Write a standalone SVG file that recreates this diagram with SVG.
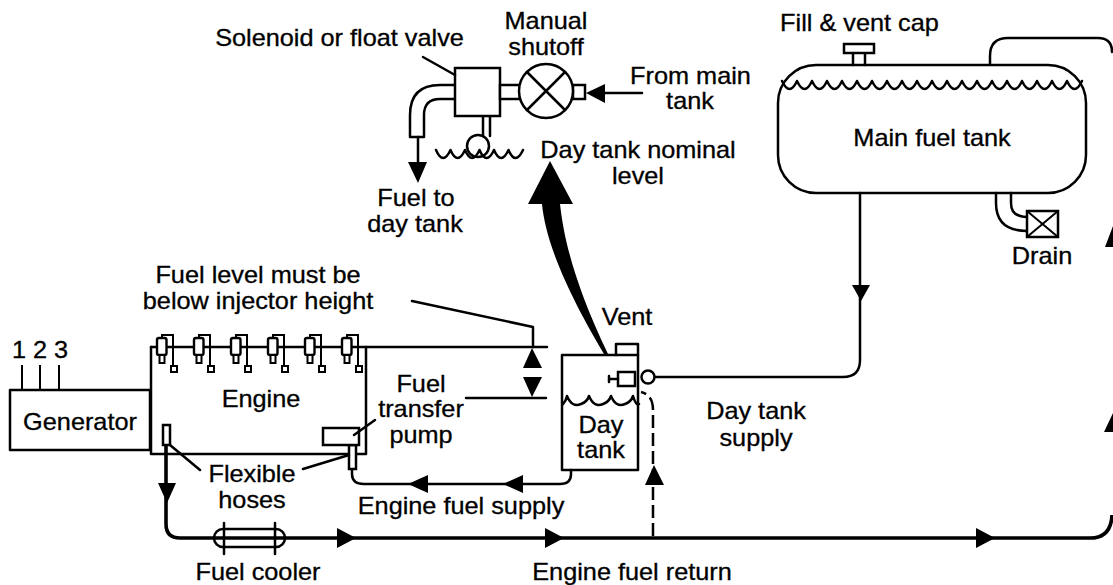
<svg xmlns="http://www.w3.org/2000/svg" xmlns:xlink="http://www.w3.org/1999/xlink" width="1113" height="585" viewBox="0 0 1113 585">
<style>
.s{fill:none;stroke:#000;stroke-width:2.5;stroke-linecap:round;stroke-linejoin:round}
.t{fill:none;stroke:#000;stroke-width:2}
.w{fill:#fff;stroke:#000;stroke-width:2.5}
.h{fill:none;stroke:#000;stroke-width:3.6}
.a{fill:#000;stroke:none}
text{font-family:"Liberation Sans",Arial,sans-serif;font-size:23px;fill:#000;stroke:#000;stroke-width:.3;text-anchor:middle}
</style>
<defs>
<g id="inj">
<path class="t" d="M162 338V335H173V366"/>
<rect x="157" y="338" width="9.500" height="17" rx="2" fill="#fff" stroke="#000" stroke-width="2.400"/>
<rect x="159.500" y="355" width="5" height="8" fill="#fff" stroke="#000" stroke-width="2"/>
<rect x="171" y="366" width="6" height="6" fill="#fff" stroke="#000" stroke-width="2"/>
</g>
</defs>
<rect width="1113" height="585" fill="#fff"/>
<g id="connectors">
<path class="h" d="M166 445V524Q166 538 180 538H1090Q1111 538 1112 515"/>
<path class="s" d="M352 469V474Q352 484 364 484H560Q571 484 571 474V470"/>
<path class="s" d="M655 377H843Q860 377 860 360V193"/>
<path class="s" stroke-dasharray="13 5" style="stroke-linecap:butt" d="M653 536V410Q653 395 641 392"/>
<path class="s" d="M990 64V56Q990 38 1008 38H1098Q1112 38 1112 52"/>
<path class="s" d="M412 301L533 327V347"/>
<path class="s" d="M151 347H547M466 398H546"/>
<path class="a" d="M550 161L573 204H560C564 240 575 285 608 354H604C560 280 545 235 542 204H528Z"/>
<path class="a" d="M532 348L542 368H523ZM532 397L542 377H523ZM158 483H176L167 503ZM337 528L356 538L337 548ZM545 528L564 538L545 548ZM976 528L995 538L976 548ZM523 475V493L503 484ZM428 475V493L408 484ZM852 285H870L861 301ZM654 465L664 485H645ZM1113 413V432H1104ZM1113 226V247H1105ZM586 93L605 84V103ZM408 162H427L418 183Z"/>
<path class="s" d="M605 93H642M418 137V165"/>
</g>
<g id="generator">
<rect class="s" x="10" y="390" width="140" height="60" fill="#fff"/>
<path class="t" d="M22 365V390M40 365V390M59 365V390"/>
<text transform="translate(40 358) scale(1.1 1)">1 2 3</text>
<text transform="translate(80 430) scale(1.1 1)">Generator</text>
</g>
<g id="engine">
<path class="s" d="M151 347V454H366V347"/>
<use xlink:href="#inj"/><use xlink:href="#inj" x="37"/><use xlink:href="#inj" x="74"/><use xlink:href="#inj" x="111"/><use xlink:href="#inj" x="148"/><use xlink:href="#inj" x="185"/>
<text transform="translate(261 407) scale(1.1 1)">Engine</text>
</g>
<g id="hoses">
<rect class="w" x="163" y="425" width="7" height="20"/>
<rect class="w" x="349" y="445" width="7" height="24"/>
<path class="s" d="M170 445L200 470M303 469L349 455"/>
<text transform="translate(252 482) scale(1.1 1)">Flexible</text>
<text transform="translate(252 508) scale(1.1 1)">hoses</text>
</g>
<g id="pump">
<rect class="w" x="323" y="428" width="36" height="17"/>
<path class="s" d="M375 420L354 435"/>
<text transform="translate(421 392) scale(1.1 1)">Fuel</text>
<text transform="translate(421 417) scale(1.1 1)">transfer</text>
<text transform="translate(421 443) scale(1.1 1)">pump</text>
</g>
<g id="cooler">
<rect class="s" x="214" y="529" width="71" height="18" rx="9" fill="#fff"/>
<path class="s" d="M224 523V554M275 523V554"/>
<text transform="translate(258 580) scale(1.1 1)">Fuel cooler</text>
</g>
<g id="day-tank">
<rect class="s" x="562" y="355" width="76" height="115" fill="#fff"/>
<path class="s" d="M616 355V344H638V355"/>
<rect class="w" x="618" y="372" width="17" height="14"/>
<path class="s" d="M609 379H618M609 376V382"/>
<circle class="w" cx="648" cy="377" r="6.500"/>
<path class="s" d="M563 404q3-3 4-8q5 12 14 8q6-2 8-8q5 12 14 8q6-2 8-8q5 12 14 8q6-2 8-8q3 10 6 8"/>
<text transform="translate(601 433) scale(1.1 1)">Day</text>
<text transform="translate(601 458) scale(1.1 1)">tank</text>
<text transform="translate(627 325) scale(1.1 1)">Vent</text>
</g>
<g id="main-tank">
<rect class="s" x="778" y="65" width="308" height="128" rx="38" fill="#fff"/>
<path class="s" d="M782 81q7.500 16 15 0q7.500 16 15 0q7.500 16 15 0q7.500 16 15 0q7.500 16 15 0q7.500 16 15 0q7.500 16 15 0q7.500 16 15 0q7.500 16 15 0q7.500 16 15 0q7.500 16 15 0q7.500 16 15 0q7.500 16 15 0q7.500 16 15 0q7.500 16 15 0q7.500 16 15 0q7.500 16 15 0q7.500 16 15 0q7.500 16 15 0q7.500 16 15 0"/>
<path class="s" d="M853 53V65M865 53V65"/>
<rect class="w" x="844" y="44" width="30" height="9"/>
<text transform="translate(859.500 31) scale(1.1 1)">Fill &amp; vent cap</text>
<text transform="translate(932 146) scale(1.1 1)">Main fuel tank</text>
</g>
<g id="drain">
<path class="s" d="M996 193V203Q996 231 1027 231M1011 193V203Q1011 217 1027 217"/>
<rect class="w" x="1027" y="211" width="31" height="26"/>
<path class="t" d="M1027 211L1058 237M1058 211L1027 237"/>
<text transform="translate(1042 264) scale(1.1 1)">Drain</text>
</g>
<g id="valve">
<path class="s" d="M455 85H440Q410 85 410 115V137H424V115Q424 99 440 99H455"/>
<path class="s" d="M483 116V136M490 116V136"/>
<path class="s" d="M436 150q7 16 14.500 0q7 16 14.500 0q7 16 14.500 0q7 16 14.500 0q7 16 14.500 0q7 16 14.500 0"/>
<circle class="w" cx="478" cy="146" r="11" style="fill:none"/>
<rect class="w" x="455" y="68" width="45" height="48"/>
<rect class="w" x="500" y="85" width="20" height="14"/>
<rect class="w" x="573" y="85" width="12" height="14"/>
<circle class="w" cx="546" cy="91" r="27"/>
<path class="s" d="M527 72L565 110M565 72L527 110M423 57L455 75"/>
<text transform="translate(339.500 46) scale(1.1 1)">Solenoid or float valve</text>
<text transform="translate(546 29) scale(1.1 1)">Manual</text>
<text transform="translate(546 55) scale(1.1 1)">shutoff</text>
<text transform="translate(690.500 84) scale(1.1 1)">From main</text>
<text transform="translate(690 109) scale(1.1 1)">tank</text>
<text transform="translate(416 206) scale(1.1 1)">Fuel to</text>
<text transform="translate(415 232) scale(1.1 1)">day tank</text>
</g>
<g id="labels">
<text transform="translate(638 158) scale(1.1 1)">Day tank nominal</text>
<text transform="translate(638 184) scale(1.1 1)">level</text>
<text transform="translate(258 283) scale(1.1 1)">Fuel level must be</text>
<text transform="translate(258 309) scale(1.1 1)">below injector height</text>
<text transform="translate(461 514) scale(1.1 1)">Engine fuel supply</text>
<text transform="translate(632 580) scale(1.1 1)">Engine fuel return</text>
<text transform="translate(756 419) scale(1.1 1)">Day tank</text>
<text transform="translate(756 446) scale(1.1 1)">supply</text>
</g>
</svg>
